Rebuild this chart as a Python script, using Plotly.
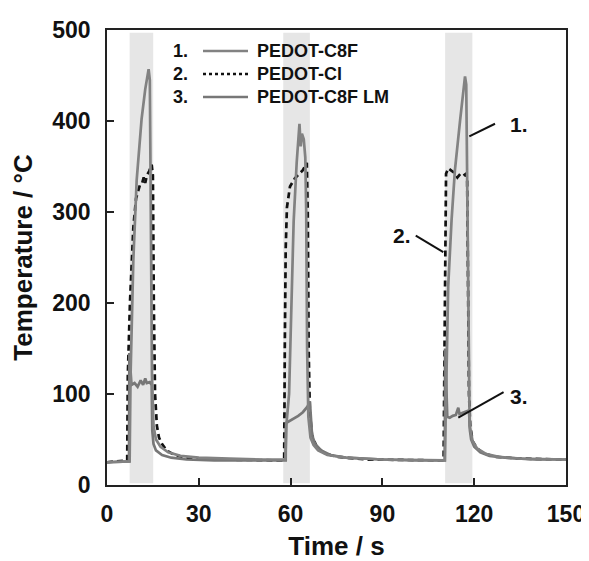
import plotly.graph_objects as go

# ---------------- data ----------------
# PEDOT-C8F (series 1)
t_c8f = [0, 7.4, 7.7, 8.6, 9.7, 11.3, 12.5, 13.2, 13.6, 14.0, 14.4, 14.7, 15.2, 16.0, 17.5, 20, 24, 30, 40, 50,
         58.3, 58.6, 59.5, 60.2, 61.0, 62.0, 62.6, 62.9, 63.3, 63.7, 64.3, 64.8, 65.1, 65.4, 65.8, 66.5, 67.5, 69, 72, 78, 90, 100,
         110.4, 110.7, 111.0, 111.5, 112.6, 113.7, 115.4, 116.3, 117.0, 117.4, 117.8, 118.1, 118.5, 119.5, 121, 124, 128, 135, 150]
T_c8f = [25, 26, 120, 247, 335, 402, 435, 452, 457, 445, 300, 120, 65, 50, 42, 36, 32, 30, 29, 28,
         28, 65, 100, 190, 290, 355, 390, 397, 372, 386, 380, 360, 300, 150, 75, 52, 44, 38, 33, 30, 28, 27,
         27, 80, 145, 218, 291, 346, 401, 425, 449, 440, 300, 120, 65, 48, 40, 34, 31, 29, 28]

# PEDOT-Cl (series 2)
t_cl = [0, 6.6, 6.8, 7.5, 8.6, 9.5, 10.8, 11.5, 12.0, 12.5, 13.0, 13.8, 14.6, 15.0, 15.3, 15.7, 16.3, 17.0, 18.0, 19.5, 22, 26, 35,
        57.9, 58.1, 58.4, 58.8, 59.8, 61.4, 63.0, 64.0, 65.3, 65.6, 65.9, 66.3, 67.0, 68.5, 71, 75, 85,
        110.0, 110.3, 110.5, 110.8, 111.5, 112.5, 113.5, 114.5, 115.5, 116.5, 117.3, 117.7, 118.0, 118.3, 118.7, 119.5, 121, 123, 127, 135, 150]
T_cl = [25, 27, 120, 200, 283, 315, 330, 332, 338, 332, 340, 345, 352, 340, 200, 100, 65, 52, 45, 38, 33, 30, 28,
        27, 150, 260, 305, 328, 337, 342, 346, 354, 300, 150, 80, 55, 42, 35, 31, 28,
        27, 150, 300, 342, 348, 345, 343, 338, 342, 340, 342, 335, 200, 100, 65, 48, 40, 35, 31, 29, 28]

# PEDOT-C8F LM (series 3)
t_lm = [0, 7.2, 7.3, 7.6, 8.0, 9.0, 10.0, 11.0, 11.8, 12.5, 13.0, 14.0, 14.6, 14.8, 15.2, 16.0, 18.0, 21, 26, 35,
        58.4, 58.5, 59.5, 61.0, 62.5, 64.0, 65.5, 66.3, 66.6, 67.0, 68.0, 70, 73, 78, 90,
        110.4, 110.5, 110.8, 111.2, 112.0, 113.0, 114.0, 114.8, 115.2, 116.0, 117.0, 118.3, 118.6, 119.0, 120, 122, 125, 130, 140, 150]
T_lm = [25, 26, 145, 125, 110, 112, 108, 115, 110, 117, 112, 113, 110, 60, 45, 38, 33, 30, 28, 27,
        27, 68, 70, 73, 76, 80, 86, 92, 70, 55, 45, 38, 33, 30, 28,
        27, 150, 110, 75, 74, 76, 77, 85, 78, 79, 80, 82, 60, 50, 42, 36, 32, 30, 28, 28]

# heating intervals (shaded)
heat_start = [7.4, 57.6, 110.5]
heat_end = [15.1, 66.3, 119.4]

x_ticks = [0, 30, 60, 90, 120, 150]
y_ticks = [0, 100, 200, 300, 400, 500]

legend_nums = ["1.", "2.", "3."]
legend_names = ["PEDOT-C8F", "PEDOT-Cl", "PEDOT-C8F LM"]

# curve labels: (text, text_x, text_y, line_x0, line_y0, line_x1, line_y1)
curve_labels = [
    ("1.", 134.5, 396, 126.8, 397, 118.4, 383),
    ("2.", 96.4, 274, 100.9, 274, 109.9, 256),
    ("3.", 134.8, 97, 129.6, 102, 114.8, 74),
]

# ---------------- figure ----------------
FONT = "Liberation Sans, Arial, sans-serif"
GRAY1 = "#828282"
GRAY3 = "#777777"

fig = go.Figure()

fig.add_trace(go.Scatter(x=t_cl, y=T_cl, mode="lines", name=legend_names[1],
                         line=dict(color="#111111", width=2.7, dash="6px,4px")))
fig.add_trace(go.Scatter(x=t_lm, y=T_lm, mode="lines", name=legend_names[2],
                         line=dict(color=GRAY3, width=2.7)))
fig.add_trace(go.Scatter(x=t_c8f, y=T_c8f, mode="lines", name=legend_names[0],
                         line=dict(color=GRAY1, width=2.7)))

shapes = []
for a, b in zip(heat_start, heat_end):
    shapes.append(dict(type="rect", xref="x", yref="y", x0=a, x1=b, y0=2, y1=497,
                       fillcolor="#e6e6e6", line=dict(width=0), layer="below"))

annotations = []
for txt, tx, ty, x0, y0, x1, y1 in curve_labels:
    annotations.append(dict(x=tx, y=ty, xref="x", yref="y", text=txt, showarrow=False,
                            font=dict(family=FONT, size=21, color="#111111", weight="bold")))
    shapes.append(dict(type="line", xref="x", yref="y", x0=x0, y0=y0, x1=x1, y1=y1,
                       line=dict(color="#111111", width=2)))

# legend (custom), rows given in page pixels
W, H = 459.0, 455.0
rows_px = [51, 74, 97]
styles = [dict(color=GRAY1, width=2.7), dict(color="#111111", width=2.7, dash="dot"), dict(color=GRAY3, width=2.7)]
for num, name, ypx, st in zip(legend_nums, legend_names, rows_px, styles):
    yp = (485 - ypx) / H
    annotations.append(dict(x=(180 - 107) / W, y=yp, xref="paper", yref="paper", text=num, showarrow=False,
                            xanchor="center", yanchor="middle",
                            font=dict(family=FONT, size=18, color="#111111", weight="bold")))
    annotations.append(dict(x=(255 - 107) / W, y=yp, xref="paper", yref="paper", text=name, showarrow=False,
                            xanchor="left", yanchor="middle",
                            font=dict(family=FONT, size=18, color="#111111", weight="bold")))
    shapes.append(dict(type="line", xref="paper", yref="paper", x0=(203 - 107) / W, x1=(248 - 107) / W,
                       y0=yp, y1=yp, line=st))

# the page places the figure 8px from its top-left corner, so the figure is 8px smaller
fig.update_layout(
    width=581, height=553,
    margin=dict(l=99, r=23, t=22, b=76, autoexpand=False),
    paper_bgcolor="white", plot_bgcolor="white",
    showlegend=False,
    shapes=shapes, annotations=annotations,
    font=dict(family=FONT, color="#111111"),
)
fig.update_xaxes(range=[0, 150], tickvals=x_ticks, ticks="inside", ticklen=7, tickwidth=1.5, tickcolor="#222",
                 showline=True, linecolor="#222", linewidth=1.5, mirror=True, showgrid=False, zeroline=False,
                 automargin=False,
                 tickfont=dict(family=FONT, size=23, color="#111111", weight="bold"), ticklabelstandoff=8,
                 title=dict(text="Time / s", font=dict(family=FONT, size=26, color="#111111", weight="bold"), standoff=12))
fig.update_yaxes(range=[0, 500], tickvals=y_ticks, ticks="inside", ticklen=7, tickwidth=1.5, tickcolor="#222",
                 showline=True, linecolor="#222", linewidth=1.5, mirror=True, showgrid=False, zeroline=False,
                 automargin=False,
                 tickfont=dict(family=FONT, size=23, color="#111111", weight="bold"), ticklabelstandoff=10,
                 title=dict(text="Temperature / °C", font=dict(family=FONT, size=26, color="#111111", weight="bold"), standoff=18))

fig.write_html("out.html")
